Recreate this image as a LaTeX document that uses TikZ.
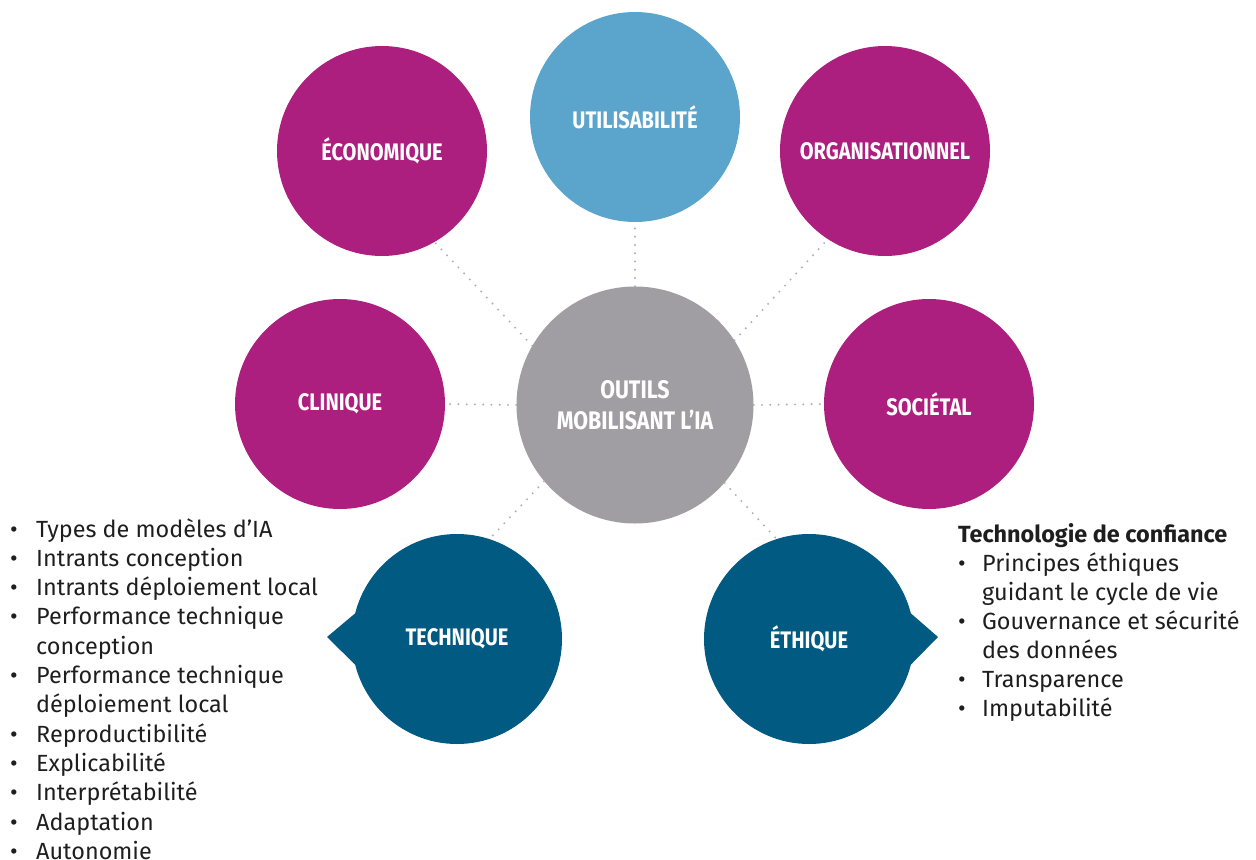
\documentclass[tikz,border=0pt]{standalone}
\usepackage{fontspec}
\setmainfont{Fira Sans}
\newfontfamily\condfont[FakeStretch=0.84]{Fira Sans}

\definecolor{mauve}{RGB}{173,31,126}
\definecolor{ciel}{RGB}{91,164,204}
\definecolor{marine}{RGB}{1,90,130}
\definecolor{gris}{RGB}{160,158,163}
\definecolor{pointille}{RGB}{175,175,178}
\definecolor{encre}{RGB}{30,30,30}

\tikzset{
  bulle/.style={circle, minimum size=210bp, inner sep=0, text=white,
    font=\condfont\bfseries\fontsize{24}{26}\selectfont},
  lien/.style={draw=pointille, line width=2.2pt, line cap=round, dash pattern=on 0pt off 8.3pt},
  liste/.style={anchor=base west, inner sep=0, text=encre, font=\fontsize{23.5}{29}\selectfont},
  puce/.style={anchor=base, inner sep=0, text=encre, font=\fontsize{23.5}{29}\selectfont},
}

\begin{document}
\begin{tikzpicture}[x=1bp, y=-1bp]
  \useasboundingbox (0,0) rectangle (1256,860);

  % les cercles
  \node[bulle, fill=gris, minimum size=237bp, align=center,
    font=\condfont\bfseries\fontsize{25.5}{31}\selectfont] (outils) at (635,405) {OUTILS\\MOBILISANT L’IA};
  \node[bulle, fill=ciel] (util) at (635,117) {UTILISABILITÉ};
  \node[bulle, fill=mauve] (eco) at (382,151) {ÉCONOMIQUE};
  \node[bulle, fill=mauve] (orga) at (885,151) {ORGANISATIONNEL};
  \node[bulle, fill=mauve] (clin) at (340,404) {CLINIQUE};
  \node[bulle, fill=mauve] (soc) at (929,404) {SOCIÉTAL};
  \node[bulle, fill=marine] (tech) at (457,639) {TECHNIQUE};
  \node[bulle, fill=marine] (ethi) at (809,639) {ÉTHIQUE};
  \coordinate (techpointe) at (327,637);
  \coordinate (ethipointe) at (938,637);
  \fill[marine] (tech.166) -- (techpointe) -- (tech.194) -- cycle;
  \fill[marine] (ethi.14) -- (ethipointe) -- (ethi.-14) -- cycle;

  % les liens
  \draw[lien] (outils.90) -- (util.270);
  \draw[lien] (outils.150) -- (eco.300);
  \draw[lien] (outils.33) -- (orga.237);
  \draw[lien] (outils.180) -- (clin.0);
  \draw[lien] (outils.0) -- (soc.180);
  \draw[lien] (outils.220) -- (tech.72);
  \draw[lien] (outils.319) -- (ethi.108);

  % liste technique
  \foreach \ligne/\p [count=\i from 0] in {Types de modèles d’IA/1, Intrants conception/1,
      Intrants déploiement local/1, Performance technique/1, conception/0,
      Performance technique/1, déploiement local/0, Reproductibilité/1,
      Explicabilité/1, Interprétabilité/1, Adaptation/1, Autonomie/1} {
    \node[liste] (g\i) at (36,537+29.3*\i) {\ligne};
    \ifnum\p=1 \node[puce] (pg\i) at (14,537+29.3*\i) {\textbullet}; \fi
  }

  % liste ethique
  \node[liste, font=\bfseries\fontsize{23.5}{29}\selectfont] (titre) at (958,542) {Technologie de confiance};
  \foreach \ligne/\p [count=\i from 0] in {Principes éthiques/1, guidant le cycle de vie/0,
      Gouvernance et sécurité/1, des données/0, Transparence/1, Imputabilité/1} {
    \node[liste] (d\i) at (982,571+29.1*\i) {\ligne};
    \ifnum\p=1 \node[puce] (pd\i) at (962,571+29.1*\i) {\textbullet}; \fi
  }
\end{tikzpicture}
\end{document}
